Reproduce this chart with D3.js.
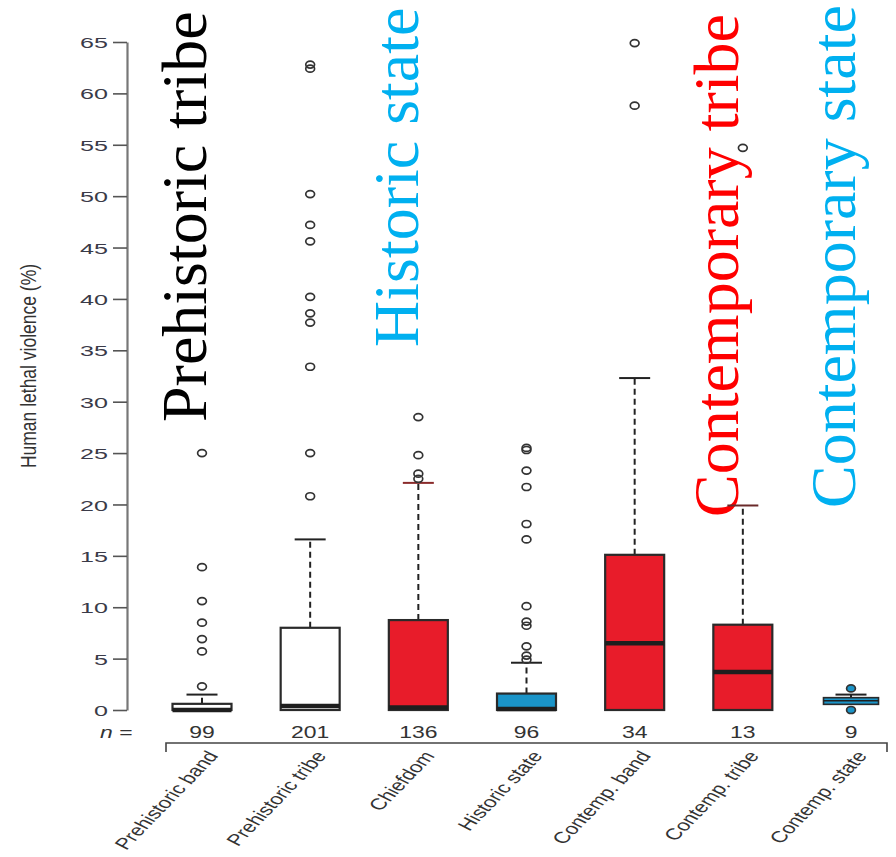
<!DOCTYPE html>
<html>
<head>
<meta charset="utf-8">
<script src="https://cdn.jsdelivr.net/npm/d3@7"></script>
<style>
  html, body { margin: 0; padding: 0; background: #fff; }
  svg { display: block; }
</style>
</head>
<body>
<div id="chart"></div>
<script>
// ---------------- data ----------------
const categories = ["Prehistoric band", "Prehistoric tribe", "Chiefdom", "Historic state",
                    "Contemp. band", "Contemp. tribe", "Contemp. state"];
const sampleSizes = [99, 201, 136, 96, 34, 13, 9];
const lowerWhisker = [0, 0, 0, 0, 0, 0, 0.55];
const q1Values     = [0, 0, 0, 0, 0, 0, 0.55];
const medianValues = [0, 0.4, 0.25, 0.1, 6.5, 3.7, 0.9];
const q3Values     = [0.6, 8.0, 8.75, 1.6, 15.1, 8.3, 1.2];
const upperWhisker = [1.5, 16.6, 22.1, 4.6, 32.3, 19.9, 1.5];
const outlierValues = [
  [2.3, 5.7, 6.9, 8.5, 10.6, 13.9, 25.0],
  [20.8, 25.0, 33.4, 37.7, 38.6, 40.2, 45.6, 47.2, 50.2, 62.4, 62.8],
  [22.5, 23.0, 24.8, 28.5],
  [4.9, 5.3, 6.2, 8.2, 8.6, 10.1, 16.6, 18.1, 21.7, 23.3, 25.3, 25.5],
  [58.8, 64.9],
  [54.7],
  [0, 2.1]
];
const yTickValues = [0, 5, 10, 15, 20, 25, 30, 35, 40, 45, 50, 55, 60, 65];
const annotationLabels = ["Prehistoric tribe", "Historic state", "Contemporary tribe", "Contemporary state"];

// ---------------- styles ----------------
const RED = "#e81c2a", BLUE = "#1a94c8";
const fillScale = d3.scaleOrdinal().domain(categories)
  .range(["#ffffff", "#ffffff", RED, BLUE, RED, RED, BLUE]);
const capColor = d3.scaleOrdinal().domain(categories)
  .range(["#222", "#222", "#8a2b2b", "#222", "#222", "#6a2a2a", "#222"]);
const outlierFill = d3.scaleOrdinal().domain(categories)
  .range(["none", "none", "none", "none", "none", "none", BLUE]);
const annotationStyle = [
  {color: "#000000", x: 206, y: 422},
  {color: "#00b0f0", x: 418, y: 347},
  {color: "#ff0000", x: 738, y: 517},
  {color: "#00b0f0", x: 855, y: 508}
];

const W = 896, H = 857;
const svg = d3.select("#chart").append("svg").attr("width", W).attr("height", H);

const x = d3.scalePoint().domain(categories).range([202, 851]);
const y = d3.scaleLinear().domain([0, 65]).range([710, 42]);
const boxW = 59, capW = 31;

// big annotation texts (drawn first; chart marks go on top)
const ann = svg.append("g");
annotationLabels.forEach((t, i) => {
  const s = annotationStyle[i];
  ann.append("text")
    .attr("transform", `translate(${s.x},${s.y}) rotate(-90)`)
    .attr("font-family", "'Liberation Serif', 'Times New Roman', serif")
    .attr("font-size", 64)
    .attr("fill", s.color)
    .text(t);
});

// y axis
const yAxis = d3.axisLeft(y).tickValues(yTickValues).tickSize(14).tickSizeOuter(0).tickPadding(0);
const gy = svg.append("g").attr("transform", "translate(127,0)").call(yAxis);
gy.select(".domain").attr("stroke", "#777").attr("stroke-width", 2.2);
gy.selectAll(".tick line").attr("stroke", "#555").attr("stroke-width", 1.6);
gy.selectAll(".tick text")
  .attr("font-family", "'Liberation Sans', Arial, sans-serif")
  .attr("font-size", 15.5)
  .attr("fill", "#3a3a48")
  .attr("x", null).attr("dy", "0.36em")
  .attr("transform", "translate(-19,0) scale(1.62,1)")
  .attr("text-anchor", "end");

// y axis title
svg.append("text")
  .attr("transform", "translate(36,366) scale(1.3,1) rotate(-90)")
  .attr("text-anchor", "middle")
  .attr("font-family", "'Liberation Sans', Arial, sans-serif")
  .attr("font-size", 17.5)
  .attr("fill", "#333")
  .text("Human lethal violence (%)");

// boxes
const boxes = svg.append("g");
categories.forEach((c, i) => {
  const cx = x(c);
  const g = boxes.append("g");
  // upper whisker
  g.append("line")
    .attr("x1", cx).attr("x2", cx)
    .attr("y1", y(q3Values[i])).attr("y2", y(upperWhisker[i]))
    .attr("stroke", "#222").attr("stroke-width", 2).attr("stroke-dasharray", "6,4");
  g.append("line")
    .attr("x1", cx - capW / 2).attr("x2", cx + capW / 2)
    .attr("y1", y(upperWhisker[i])).attr("y2", y(upperWhisker[i]))
    .attr("stroke", capColor(c)).attr("stroke-width", 2);
  // lower whisker (if any)
  if (lowerWhisker[i] < q1Values[i]) {
    g.append("line")
      .attr("x1", cx).attr("x2", cx)
      .attr("y1", y(q1Values[i])).attr("y2", y(lowerWhisker[i]))
      .attr("stroke", "#222").attr("stroke-width", 2).attr("stroke-dasharray", "6,4");
  }
  // box
  const bw = i === 6 ? 55 : boxW;
  const bh = y(q1Values[i]) - y(q3Values[i]);
  const interior = medianValues[i] > q1Values[i] && medianValues[i] < q3Values[i];
  const thin = interior && bh < 10;
  g.append("rect")
    .attr("x", cx - bw / 2).attr("width", bw)
    .attr("y", y(q3Values[i])).attr("height", bh)
    .attr("fill", fillScale(c)).attr("stroke", "#2a2a2a").attr("stroke-width", thin ? 1.6 : 2.2);
  // median
  g.append("line")
    .attr("x1", cx - bw / 2).attr("x2", cx + bw / 2)
    .attr("y1", y(medianValues[i])).attr("y2", y(medianValues[i]))
    .attr("stroke", "#1e1e1e").attr("stroke-width", thin ? 1.6 : 4.5);
  // outliers
  g.selectAll("ellipse").data(outlierValues[i]).enter().append("ellipse")
    .attr("cx", cx).attr("cy", d => y(d)).attr("rx", 4.4).attr("ry", 3.5)
    .attr("fill", outlierFill(c)).attr("stroke", "#333").attr("stroke-width", 1.7);
});

// n row
const nRow = svg.append("g")
  .attr("font-family", "'Liberation Sans', Arial, sans-serif")
  .attr("font-size", 17).attr("fill", "#333");
const nLab = nRow.append("text").attr("transform", "translate(100,738) scale(1.35,1)");
nLab.append("tspan").attr("font-style", "italic").text("n");
nLab.append("tspan").text(" =");
categories.forEach((c, i) => {
  nRow.append("text")
    .attr("transform", `translate(${x(c)},738) scale(1.35,1)`)
    .attr("text-anchor", "middle")
    .text(sampleSizes[i]);
});

// bracket line
svg.append("path")
  .attr("d", "M166,752 V743 H887 V752")
  .attr("fill", "none").attr("stroke", "#444").attr("stroke-width", 1.6);

// category labels
const catG = svg.append("g")
  .attr("font-family", "'Liberation Sans', Arial, sans-serif")
  .attr("font-size", 16).attr("fill", "#333");
categories.forEach(c => {
  catG.append("text")
    .attr("transform", `translate(${x(c) + 17},756) scale(1.4,1) rotate(-55)`)
    .attr("text-anchor", "end")
    .text(c);
});
</script>
</body>
</html>
